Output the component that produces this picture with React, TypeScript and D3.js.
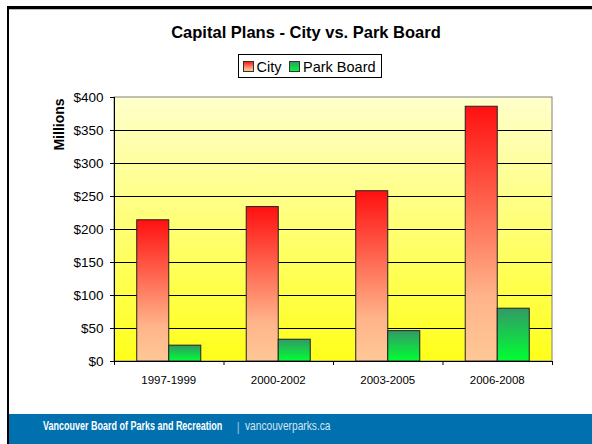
import React from "react"
import * as d3 from "d3"

const categories = ["1997-1999", "2000-2002", "2003-2005", "2006-2008"]
const cityValues = [214, 234, 258, 386]
const parkValues = [24, 33, 46, 80]
const yTicks = [0, 50, 100, 150, 200, 250, 300, 350, 400]
const seriesNames = ["City", "Park Board"]

export default function App() {
  const width = 592
  const height = 444
  const plot = { left: 114, top: 97, right: 552, bottom: 361 }

  const x = d3.scaleBand().domain(categories).range([plot.left, plot.right]).paddingInner(0).paddingOuter(0)
  const y = d3.scaleLinear().domain([0, 400]).range([plot.bottom, plot.top])
  const sub = d3
    .scaleBand()
    .domain(seriesNames)
    .range([0, x.bandwidth()])
    .paddingOuter(0.71)
    .paddingInner(0)

  const font = "'Liberation Sans', Arial, sans-serif"
  const series = [
    { name: "City", values: cityValues, fill: "url(#cityGrad)" },
    { name: "Park Board", values: parkValues, fill: "url(#parkGrad)" },
  ]
  const boundaries = categories.map((c) => x(c) as number).concat([plot.right])

  return (
    <svg width={width} height={height} style={{ position: "absolute", left: 0, top: 0 }} fontFamily={font}>
      <defs>
        <linearGradient id="bgGrad" x1="0" y1="0" x2="0" y2="1">
          <stop offset="0" stopColor="#FFFFCC" />
          <stop offset="1" stopColor="#FFFF1A" />
        </linearGradient>
        <linearGradient id="cityGrad" x1="0" y1="0" x2="0" y2="1">
          <stop offset="0" stopColor="#FF1010" />
          <stop offset="0.75" stopColor="#FFB48A" />
          <stop offset="1" stopColor="#FFC896" />
        </linearGradient>
        <linearGradient id="parkGrad" x1="0" y1="0" x2="0" y2="1">
          <stop offset="0" stopColor="#339966" />
          <stop offset="1" stopColor="#00FF33" />
        </linearGradient>
      </defs>
      <rect x={0} y={0} width={width} height={height} fill="#fff" />
      {/* frame */}
      <rect x={7} y={6} width={width - 7} height={3} fill="#000" />
      <rect x={7} y={9} width={width - 7} height={1} fill="#bbb" />
      <rect x={7} y={6} width={2} height={height - 6} fill="#000" />
      {/* footer */}
      <rect x={9} y={414} width={width - 9} height={30} fill="#0070AF" />
      <g fontSize={12}>
        <text transform="translate(43, 429.5) scale(0.75, 1)" fill="#fff" fontWeight="bold">
          Vancouver Board of Parks and Recreation
        </text>
        <text x={236.5} y={430.5} fill="#8fbadb" fontSize={13}>|</text>
        <text transform="translate(245, 429.5) scale(0.85, 1)" fill="#d6e6f2">
          vancouverparks.ca
        </text>
      </g>

      {/* title */}
      <text x={306} y={37.5} textAnchor="middle" fontSize={16.5} fontWeight="bold">
        Capital Plans - City vs. Park Board
      </text>

      {/* legend */}
      <rect x={238.5} y={54.5} width={143} height={23} fill="#fff" stroke="#000" />
      <rect x={243.5} y={61.5} width={10} height={10} fill="url(#cityGrad)" stroke="#333" />
      <text x={256.5} y={72} fontSize={14.5}>City</text>
      <rect x={289.5} y={61.5} width={10} height={10} fill="url(#parkGrad)" stroke="#333" />
      <text x={303} y={72} fontSize={14.5}>Park Board</text>

      {/* plot background */}
      <rect x={plot.left} y={plot.top} width={plot.right - plot.left} height={plot.bottom - plot.top} fill="url(#bgGrad)" stroke="#808080" />
      {yTicks.slice(1, -1).map((t) => (
        <line key={t} x1={plot.left} x2={plot.right} y1={y(t) + 0.5} y2={y(t) + 0.5} stroke="#000" strokeWidth={1} />
      ))}

      {/* bars */}
      {series.map((s) =>
        categories.map((c, i) => (
          <rect
            key={s.name + c}
            x={(x(c) as number) + (sub(s.name) as number)}
            y={y(s.values[i])}
            width={sub.bandwidth()}
            height={plot.bottom - y(s.values[i])}
            fill={s.fill}
            stroke="#222"
            strokeWidth={1}
          />
        ))
      )}

      {/* axes */}
      <line x1={plot.left + 0.5} x2={plot.left + 0.5} y1={plot.top} y2={plot.bottom} stroke="#000" />
      <line x1={plot.left} x2={plot.right} y1={plot.bottom + 0.5} y2={plot.bottom + 0.5} stroke="#000" />
      {yTicks.map((t) => (
        <g key={t}>
          <line x1={plot.left - 4} x2={plot.left} y1={y(t) + 0.5} y2={y(t) + 0.5} stroke="#000" />
          <text x={plot.left - 10.5} y={y(t) + 5} textAnchor="end" fontSize={13.5}>
            {"$" + t}
          </text>
        </g>
      ))}
      {boundaries.map((b, i) => (
        <line key={i} x1={b + 0.5} x2={b + 0.5} y1={plot.bottom} y2={plot.bottom + 4} stroke="#000" />
      ))}
      {categories.map((c) => (
        <text key={c} x={(x(c) as number) + x.bandwidth() / 2} y={383.5} textAnchor="middle" fontSize={11.5}>
          {c}
        </text>
      ))}
      <text transform={`translate(64, 124.5) rotate(-90)`} textAnchor="middle" fontSize={14} fontWeight="bold">
        Millions
      </text>
    </svg>
  )
}
